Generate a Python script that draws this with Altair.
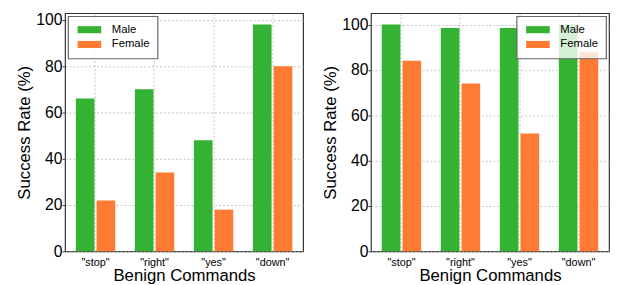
import altair as alt
import pandas as pd

commands = ['"stop"', '"right"', '"yes"', '"down"']
genders = ["Male", "Female"]
left_male = [66, 70, 48, 98]
left_female = [22, 34, 18, 80]
right_male = [100, 98.5, 98.5, 100]
right_female = [84, 74, 52, 88]
y_ticks = [0, 20, 40, 60, 80, 100]
y_max_left = 102.9
y_max_right = 105
colors = ["#33b233", "#ff7b33"]
FONT = "Liberation Sans"


def frame(male, female):
    rows = []
    for c, m, f in zip(commands, male, female):
        rows.append({"cmd": c, "gender": "Male", "rate": m})
        rows.append({"cmd": c, "gender": "Female", "rate": f})
    return pd.DataFrame(rows)


def panel(df, ymax, legend_orient):
    return alt.Chart(df).mark_bar().encode(
        x=alt.X("cmd:N", sort=commands, title="Benign Commands",
                scale=alt.Scale(paddingInner=0.333, paddingOuter=0.183),
                axis=alt.Axis(labelAngle=0, grid=True, ticks=False, domain=False,
                              labelFontSize=11, titleFontSize=17,
                              labelPadding=5, titlePadding=1)),
        xOffset=alt.XOffset("gender:N", sort=genders,
                            scale=alt.Scale(paddingInner=0.1)),
        y=alt.Y("rate:Q", title="Success Rate (%)",
                scale=alt.Scale(domain=[0, ymax], nice=False),
                axis=alt.Axis(values=y_ticks, grid=True, domain=False,
                              tickSize=3, tickColor="#333",
                              labelFontSize=16, titleFontSize=17,
                              labelPadding=0, titlePadding=2)),
        color=alt.Color("gender:N", sort=genders,
                        scale=alt.Scale(domain=genders, range=colors),
                        legend=alt.Legend(title=None, orient=legend_orient, offset=3)),
    ).properties(width=242, height=242)


left = panel(frame(left_male, left_female), y_max_left, "top-left")
right = panel(frame(right_male, right_female), y_max_right, "top-right")

chart = alt.hconcat(left, right, spacing=17).resolve_scale(
    y="independent", color="independent"
).resolve_legend(color="independent").properties(
    padding={"left": 7, "top": 1, "right": 0, "bottom": 0}
).configure(font=FONT).configure_view(
    stroke="#333", strokeWidth=1.2
).configure_axis(
    labelColor="black", titleColor="black", titleFontWeight="normal",
    gridColor="#b5b5b5", gridDash=[2, 2], gridWidth=0.8
).configure_legend(
    fillColor="rgba(255,255,255,0.8)", strokeColor="#666", strokeWidth=1.2,
    padding=8, labelFontSize=11.5, labelColor="black",
    symbolType="M-1,-0.9H5V0.9H-1Z", symbolSize=64, symbolStrokeWidth=0,
    symbolOpacity=1, labelOffset=25, rowPadding=2, cornerRadius=0
)

chart.save("out.html", embed_options={"renderer": "svg", "actions": False})
